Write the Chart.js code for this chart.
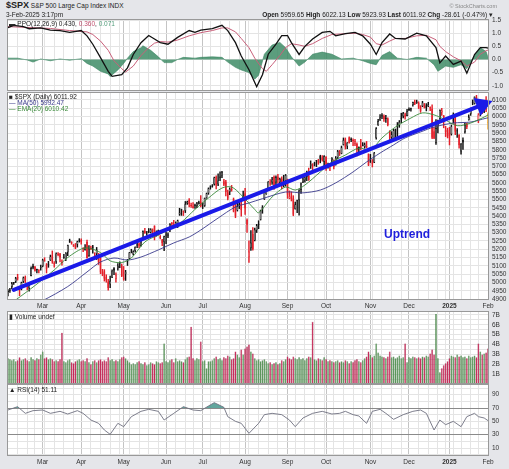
<!DOCTYPE html>
<html>
<head>
<meta charset="utf-8">
<script src="https://cdn.jsdelivr.net/npm/chart.js@4.4.1/dist/chart.umd.min.js"></script>
<style>
body{margin:0;width:509px;height:469px;background:#e5e6ea;position:relative;overflow:hidden;font-family:"Liberation Sans",Arial,sans-serif;}
canvas{position:absolute;left:7px;}
.t{position:absolute;font-size:6.5px;white-space:nowrap;color:#222;line-height:7px;}
</style>
</head>
<body>
<canvas id="ppo" width="502" height="84" style="top:13px"></canvas>
<canvas id="price" width="502" height="224" style="top:86px"></canvas>
<canvas id="vol" width="502" height="85" style="top:305px"></canvas>
<canvas id="rsi" width="502" height="91" style="top:378px"></canvas>

<div class="t" style="left:6px;top:2px"><b style="font-size:9px">$SPX</b> S&amp;P 500 Large Cap Index INDX</div>
<div class="t" style="left:6px;top:11px">3-Feb-2025 3:17pm</div>
<div class="t" style="right:12px;top:3px;color:#888;font-size:5.5px">© StockCharts.com</div>
<div class="t" style="right:16px;top:11px"><b>Open</b> 5959.65 <b>High</b> 6022.13 <b>Low</b> 5923.93 <b>Last</b> 6011.92 <b>Chg</b> -28.61 (-0.47%) ▾</div>

<div class="t" style="left:9px;top:20px">▬ PPO(12,26,9) 0.430, <span style="color:#c0506e">0.360</span>, <span style="color:#4e9a78">0.071</span></div>
<div class="t" style="left:9px;top:93px">■ $SPX (Daily) 6011.92</div>
<div class="t" style="left:9px;top:99px;color:#3a3a8c">— MA(50) 5992.47</div>
<div class="t" style="left:9px;top:105px;color:#3a8a3a">— EMA(20) 6010.42</div>
<div class="t" style="left:9px;top:313px">▮ Volume undef</div>
<div class="t" style="left:9px;top:386px">▲ RSI(14) 51.11</div>

<script>
const F = '"Liberation Sans", Arial, sans-serif';

// trading days shown
const months = ['2024-02','2024-03','2024-04','2024-05','2024-06','2024-07','2024-08','2024-09','2024-10','2024-11','2024-12','2025-01','2025-02'];
const monthDays = [
  [5,6,7,8,9,12,13,14,15,16,20,21,22,23,26,27,28,29],
  [1,4,5,6,7,8,11,12,13,14,15,18,19,20,21,22,25,26,27,28],
  [1,2,3,4,5,8,9,10,11,12,15,16,17,18,19,22,23,24,25,26,29,30],
  [1,2,3,6,7,8,9,10,13,14,15,16,17,20,21,22,23,24,28,29,30,31],
  [3,4,5,6,7,10,11,12,13,14,17,18,20,21,24,25,26,27,28],
  [1,2,3,5,8,9,10,11,12,15,16,17,18,19,22,23,24,25,26,29,30,31],
  [1,2,5,6,7,8,9,12,13,14,15,16,19,20,21,22,23,26,27,28,29,30],
  [3,4,5,6,9,10,11,12,13,16,17,18,19,20,23,24,25,26,27,30],
  [1,2,3,4,7,8,9,10,11,14,15,16,17,18,21,22,23,24,25,28,29,30,31],
  [1,4,5,6,7,8,11,12,13,14,15,18,19,20,21,22,25,26,27,29],
  [2,3,4,5,6,9,10,11,12,13,16,17,18,19,20,23,24,26,27,30,31],
  [2,3,6,7,8,10,13,14,15,16,17,21,22,23,24,27,28,29,30,31],
  [3]
];
const monthNames = ['Jan','Feb','Mar','Apr','May','Jun','Jul','Aug','Sep','Oct','Nov','Dec'];

const opens = [
  4942,4950,4973,4996,5004,5032,4967,4976,5004,5032,4989,4963,5039,5101,5093,5075,5067,5086,
  5098,5131,5110,5109,5133,5164,5111,5124,5174,5175,5124,5154,5139,5181,5254,5243,5220,5228,5227,5248,
  5257,5204,5194,5244,5158,5211,5217,5160,5172,5171,5149,5065,5068,5032,5006,4988,5029,5085,5020,5085,5114,5103,
  5029,5050,5122,5142,5188,5168,5190,5226,5234,5221,5264,5310,5303,5305,5299,5319,5340,5282,5316,5278,5259,5243,
  5283,5278,5314,5357,5343,5341,5353,5409,5441,5424,5431,5476,5499,5461,5459,5460,5460,5473,5488,
  5471,5461,5507,5537,5572,5584,5591,5636,5590,5638,5644,5610,5608,5544,5545,5566,5505,5429,5433,5476,5478,5506,
  5537,5376,5151,5206,5293,5252,5314,5353,5376,5442,5500,5531,5557,5603,5603,5637,5603,5639,5602,5627,5607,5612,
  5623,5506,5520,5508,5442,5490,5496,5557,5603,5615,5655,5641,5702,5709,5711,5733,5733,5762,5755,5726,
  5757,5698,5696,5737,5737,5714,5751,5778,5775,5829,5866,5820,5875,5859,5857,5833,5835,5816,5826,5831,5816,5823,5775,
  5724,5725,5722,5869,5947,5976,6008,6004,5985,5989,5913,5874,5864,5914,5937,5945,5992,6000,6014,6004,
  6040,6042,6069,6089,6081,6083,6057,6061,6074,6068,6063,6052,6047,5912,5842,5941,5985,6024,6007,5920,5920,
  5904,5892,5982,5994,5910,5890,5789,5859,5905,5960,5978,6015,6080,6076,6118,5970,6026,6058,6050,6096,
  5960
];
const highs = [
  4957,4964,5000,5000,5031,5049,4970,5002,5033,5039,4994,4984,5094,5111,5097,5081,5077,5105,
  5140,5149,5114,5127,5165,5190,5125,5179,5180,5176,5136,5170,5180,5225,5261,5246,5229,5235,5249,5264,
  5263,5209,5228,5256,5222,5219,5224,5179,5211,5175,5168,5079,5077,5046,5019,5038,5076,5089,5058,5114,5124,5111,
  5096,5073,5139,5181,5200,5191,5215,5239,5239,5250,5311,5326,5306,5325,5324,5323,5342,5311,5316,5283,5260,5280,
  5303,5299,5354,5362,5375,5365,5376,5447,5442,5432,5488,5490,5506,5478,5481,5472,5483,5490,5524,
  5479,5509,5539,5570,5583,5590,5635,5642,5655,5666,5669,5622,5615,5557,5570,5585,5509,5491,5488,5488,5489,5551,
  5567,5383,5250,5312,5331,5328,5350,5372,5436,5463,5546,5563,5608,5620,5633,5643,5642,5652,5629,5636,5646,5651,
  5623,5552,5546,5523,5484,5497,5560,5600,5636,5637,5671,5690,5733,5716,5725,5736,5742,5767,5765,5765,
  5758,5720,5715,5752,5739,5759,5796,5796,5822,5871,5871,5843,5878,5872,5866,5863,5842,5817,5862,5843,5841,5850,5775,
  5772,5741,5784,5933,5983,6012,6018,6010,6008,5993,5915,5909,5924,5925,5964,5976,6020,6025,6021,6044,
  6053,6051,6087,6099,6099,6089,6066,6092,6079,6078,6085,6058,6070,5935,5982,5978,6040,6049,6007,5941,5930,
  5935,5949,6022,6000,5928,5891,5837,5871,5961,5961,6011,6051,6100,6119,6128,6018,6070,6062,6087,6121,
  6022
];
const lows = [
  4918,4939,4961,4988,4999,5014,4920,4955,4999,4999,4955,4947,5039,5081,5068,5057,5058,5074,
  5094,5127,5057,5091,5132,5115,5092,5115,5160,5123,5104,5145,5131,5162,5241,5230,5216,5203,5213,5243,
  5230,5185,5194,5146,5157,5197,5177,5146,5138,5108,5052,5040,5008,5001,4954,4969,5028,5047,5002,5074,5089,5035,
  5013,5012,5102,5142,5178,5165,5182,5209,5209,5218,5263,5296,5284,5299,5298,5286,5256,5279,5286,5262,5222,5191,
  5234,5270,5306,5335,5331,5331,5331,5404,5404,5403,5421,5470,5455,5452,5448,5446,5451,5471,5455,
  5445,5458,5507,5531,5562,5574,5587,5563,5584,5614,5631,5583,5522,5497,5529,5550,5425,5390,5430,5445,5400,5506,
  5410,5302,5120,5193,5195,5250,5301,5324,5376,5417,5500,5531,5555,5585,5591,5560,5590,5599,5590,5563,5576,5581,
  5507,5504,5491,5402,5442,5420,5406,5536,5602,5604,5614,5615,5687,5674,5702,5698,5712,5721,5731,5703,
  5675,5689,5674,5707,5684,5707,5745,5765,5775,5828,5804,5806,5840,5849,5824,5824,5763,5784,5799,5823,5809,5811,5704,
  5723,5696,5722,5863,5946,5976,5987,5970,5965,5943,5854,5866,5859,5856,5880,5935,5963,5992,5984,6004,
  6035,6032,6062,6071,6079,6048,6025,6059,6051,6034,6059,6035,5867,5866,5832,5902,5982,6007,5932,5879,5871,
  5829,5888,5960,5891,5874,5809,5773,5802,5900,5927,5978,6007,6071,6075,6089,5963,6004,6017,6024,6030,
  5924
];
const closes = [
  4942,4954,4995,4998,5027,5022,4953,5001,5030,5006,4976,4982,5087,5089,5070,5078,5069,5096,
  5137,5131,5079,5105,5157,5124,5117,5175,5165,5150,5117,5149,5179,5225,5241,5234,5218,5203,5248,5254,
  5243,5205,5211,5147,5204,5202,5209,5161,5199,5123,5061,5051,5022,5011,4967,5010,5071,5072,5048,5100,5116,5036,
  5018,5064,5128,5181,5187,5188,5214,5223,5221,5247,5308,5297,5303,5308,5321,5307,5268,5305,5306,5267,5236,5278,
  5283,5291,5354,5352,5347,5361,5375,5421,5434,5431,5473,5487,5473,5465,5448,5469,5478,5483,5460,
  5475,5509,5537,5567,5572,5577,5633,5585,5615,5631,5667,5589,5545,5505,5564,5556,5427,5399,5459,5464,5436,5522,
  5446,5347,5186,5240,5199,5319,5344,5344,5434,5455,5543,5554,5608,5597,5621,5571,5634,5616,5625,5592,5592,5648,
  5529,5520,5503,5408,5471,5496,5554,5596,5626,5633,5634,5618,5714,5703,5718,5732,5722,5745,5738,5762,
  5709,5710,5700,5751,5696,5751,5792,5780,5815,5859,5815,5843,5841,5865,5853,5851,5797,5809,5808,5823,5832,5813,5705,
  5728,5712,5782,5929,5973,5995,6001,5984,5985,5949,5871,5893,5917,5917,5948,5969,5987,6021,5999,6032,
  6047,6050,6087,6075,6090,6053,6034,6085,6051,6051,6074,6050,5872,5867,5931,5975,6040,6037,5971,5907,5882,
  5869,5942,5975,5909,5918,5827,5837,5843,5950,5937,5997,6049,6086,6119,6101,6012,6067,6039,6071,6041,
  6012
];
// volume in billions
const volumes = [
  2.6,2.5,2.4,2.5,2.3,2.4,2.7,2.4,2.5,2.6,2.4,2.3,2.7,2.5,2.4,2.6,2.5,3.0,
  3.3,2.6,2.7,2.5,2.6,2.5,2.3,2.4,2.3,2.5,5.2,2.3,2.2,2.4,2.5,2.2,2.1,2.3,2.4,2.5,
  2.3,2.4,2.3,2.6,2.2,2.0,2.3,2.4,2.2,2.4,2.5,2.3,2.4,2.3,2.7,2.4,2.5,2.3,2.4,2.3,2.5,2.7,
  2.8,2.6,2.4,2.2,2.0,2.1,2.0,2.2,2.3,2.1,2.0,2.2,1.9,2.0,2.2,2.1,2.0,2.3,2.2,2.1,2.2,4.1,
  2.3,2.2,2.4,2.5,2.2,2.6,2.3,2.4,2.3,2.2,2.5,2.7,2.8,5.8,2.6,2.4,2.6,2.5,4.3,
  2.3,2.4,1.6,2.3,2.3,2.4,2.6,2.8,2.5,2.6,2.4,2.7,2.6,2.9,2.8,2.5,2.6,3.3,3.0,2.7,3.5,3.0,
  3.6,3.8,4.0,3.3,3.1,2.6,2.4,2.5,2.3,2.4,2.5,2.3,2.1,2.2,2.0,2.1,2.2,2.0,2.1,2.4,2.3,2.5,
  2.8,2.6,2.5,2.8,2.6,2.5,2.7,2.5,2.6,2.4,2.6,2.8,2.7,6.3,2.5,2.4,2.6,2.5,2.4,2.7,
  2.5,2.3,2.4,2.3,2.2,2.3,2.4,2.2,2.3,2.2,2.4,2.3,2.1,2.3,2.2,2.4,2.5,2.3,2.2,2.4,2.6,2.8,3.3,
  3.0,2.7,2.9,4.1,3.2,2.9,2.8,2.7,2.6,2.8,3.3,2.7,2.8,2.6,2.7,2.9,2.6,2.7,4.1,2.2,
  2.7,2.6,2.8,2.7,2.6,2.7,2.6,2.8,2.7,2.9,2.8,3.1,3.5,3.0,7.1,2.6,1.2,1.6,1.9,2.1,2.3,
  2.6,2.9,2.8,2.7,3.0,2.8,2.9,2.7,2.8,2.6,2.9,2.7,2.8,2.9,2.7,4.1,3.3,3.0,3.1,3.2,
  3.6
];

// smooth lines, read at sample bars (bar index -> value)
const ma50Idx = [10,18,31,41,48,55,62,69,78,86,94,100,109,118,125,132,144,153,162,170,179,186,193,200,206,214,221,231,240,248,249];
const ma50Val = [4850,4890,4975,5063,5123,5147,5135,5153,5196,5238,5274,5316,5388,5455,5479,5505,5545,5540,5557,5600,5666,5726,5780,5829,5871,5907,5937,5961,5967,5990,5992];
const ema20Idx = [0,13,24,31,40,48,53,59,64,71,78,83,90,97,104,111,116,121,128,130,137,144,149,154,162,168,175,182,188,194,201,209,215,221,226,233,240,247,249];
const ema20Val = [4860,4972,5075,5150,5208,5180,5130,5120,5147,5244,5286,5316,5364,5440,5509,5569,5575,5527,5440,5420,5515,5575,5557,5587,5666,5726,5768,5810,5798,5871,5937,5991,6022,6010,5985,5945,5961,5997,6010];
const trendIdx = [3,246];
const trendVal = [4955,6070];

const ppoIdx = [0,3,8,11,17,22,27,32,38,41,44,48,52,54,59,62,65,69,73,76,79,83,88,94,97,100,106,111,114,118,121,125,129,132,135,139,142,145,147,151,154,158,163,167,170,175,180,184,188,191,194,198,201,206,212,217,222,224,227,231,235,238,242,245,248,249];
const ppoVal = [1.21,1.30,1.25,1.17,1.20,1.12,1.10,1.03,1.10,0.90,0.58,0.07,-0.45,-0.64,-0.58,-0.32,0.19,0.64,0.91,0.78,0.64,0.58,0.84,1.10,1.03,1.12,1.17,1.30,1.10,0.64,0.13,-0.39,-1.04,-0.58,0.20,0.58,0.91,0.91,0.64,0.19,0.50,0.78,1.03,1.07,0.90,0.98,1.03,0.90,0.58,0.19,0.64,0.97,0.80,0.78,1.00,0.90,0.45,-0.13,0.13,-0.19,-0.06,-0.52,0.19,0.45,0.45,0.43];
const sigIdx = [0,22,32,41,44,48,52,55,59,61,65,69,73,76,79,83,88,94,100,106,111,114,118,121,125,128,132,134,137,141,144,147,151,154,158,163,168,175,180,184,188,191,194,198,201,206,212,217,222,224,227,231,235,238,242,245,248,249];
const sigVal = [1.25,1.18,1.10,1.05,0.95,0.70,0.35,-0.05,-0.35,-0.48,-0.25,0.15,0.45,0.62,0.68,0.66,0.74,0.90,1.02,1.10,1.20,1.20,1.05,0.80,0.45,0.05,-0.35,-0.45,-0.20,0.15,0.45,0.60,0.55,0.50,0.60,0.80,0.95,0.98,1.00,0.95,0.85,0.60,0.55,0.70,0.80,0.80,0.90,0.92,0.75,0.50,0.30,0.10,-0.05,-0.25,-0.10,0.20,0.33,0.36];
const histIdx = [0,5,10,13,17,22,27,32,38,41,44,48,52,53,57,60,62,65,69,70,74,78,81,85,88,91,97,100,106,111,114,118,121,125,128,130,133,137,141,144,147,151,154,158,163,168,173,179,184,188,191,194,198,202,207,212,217,221,223,227,231,235,238,242,245,248,249];
const histVal = [0.05,0.05,-0.02,-0.1,0.02,-0.05,0.02,-0.03,0.03,-0.15,-0.25,-0.45,-0.55,-0.65,-0.4,-0.15,0.05,0.3,0.45,0.52,0.35,0.1,-0.12,-0.12,0.0,0.08,0.05,0.08,0.1,0.08,-0.1,-0.3,-0.4,-0.5,-0.75,-0.6,0.2,0.55,0.65,0.45,0.1,-0.25,-0.1,0.2,0.28,0.2,0.02,0.05,-0.05,-0.15,-0.2,0.15,0.3,0.05,0.0,0.08,0.05,-0.2,-0.45,-0.25,-0.3,-0.2,-0.35,0.15,0.45,0.3,0.07];

const rsiIdx = [0,5,9,13,18,22,27,31,36,39,43,47,50,53,57,60,64,69,73,78,81,86,91,96,100,104,107,112,114,118,121,125,130,133,137,142,146,149,153,158,163,168,172,175,179,182,186,189,193,196,200,205,210,214,217,221,224,227,231,235,238,242,244,247,249];
const rsiVal = [67,72,62,66,67,62,65,61,66,62,52,47,37,30.5,47,42,57,65,68,65,52,62,72,67,66,73,78,71,57,50,47,32,47,60,62,60,52,42,55,62,65,61,62,65,60,58,47,65,68,62,53,60,65,67,62,37,52,45,50,42,57,62,57,55,51];

// tick labels
const priceTicks = [4900,4950,5000,5050,5100,5150,5200,5250,5300,5350,5400,5450,5500,5550,5600,5650,5700,5750,5800,5850,5900,5950,6000,6050,6100];
const ppoTicks = [-1.0,-0.5,0.0,0.5,1.0,1.5];
const volTicks = [0.5,1,1.5,2,2.5,3,3.5,4,4.5,5,5.5,6,6.5,7];
const rsiTicks = [0,10,20,30,40,50,60,70,80,90,100];

// ---- build ----
const dates = [];
months.forEach((m, k) => monthDays[k].forEach(d => dates.push(m + '-' + String(d).padStart(2, '0'))));

function monthLabel(i) {
  if (i <= 0) return '';
  const m = dates[i].slice(0, 7), p = dates[i - 1].slice(0, 7);
  if (m === p) return '';
  const mm = +dates[i].slice(5, 7);
  return mm === 1 ? dates[i].slice(0, 4) : monthNames[mm - 1];
}
function weekStart(i) {
  if (i <= 0) return false;
  return new Date(dates[i] + 'T00:00:00Z').getUTCDay() < new Date(dates[i - 1] + 'T00:00:00Z').getUTCDay();
}
function pts(idx, vals) {
  return idx.map((i, k) => ({ x: dates[i], y: vals[k] }));
}

function xAxis(show) {
  return {
    type: 'category', offset: true,
    border: { display: false },
    grid: {
      offset: false, drawTicks: false,
      color: c => monthLabel(c.index) ? '#c4c4c4' : (weekStart(c.index) ? '#e4e4e4' : 'rgba(0,0,0,0)')
    },
    ticks: {
      display: show, autoSkip: false, maxRotation: 0, minRotation: 0, padding: 2,
      color: '#333',
      font: c => ({ family: F, size: 6.5, weight: monthLabel(c.index) === '2025' ? 'bold' : 'normal' }),
      callback: (v, i) => monthLabel(i)
    },
    afterFit: s => { s.height = show ? 10 : 0; s.paddingLeft = 0; s.paddingRight = 0; }
  };
}
function yAxis(min, max, tickVals, fmt, gridCol) {
  return {
    position: 'right', min: min, max: max,
    border: { display: false },
    afterBuildTicks: s => { s.ticks = tickVals.map(v => ({ value: v })); },
    grid: { drawTicks: false, color: gridCol || '#e4e4e4' },
    ticks: { autoSkip: false, padding: 3, color: '#333', font: { family: F, size: 6.5 }, callback: fmt },
    afterFit: s => { s.width = 20; s.paddingTop = 0; s.paddingBottom = 0; }
  };
}

const panel = {
  id: 'panel',
  beforeDraw(c) {
    const a = c.chartArea, x = c.ctx;
    x.save(); x.fillStyle = '#fff';
    x.fillRect(a.left, a.top, a.right - a.left, a.bottom - a.top);
    x.restore();
  },
  afterDraw(c) {
    const a = c.chartArea, x = c.ctx;
    x.save(); x.strokeStyle = '#999'; x.lineWidth = 1;
    x.strokeRect(a.left + 0.5, a.top + 0.5, a.right - a.left - 1, a.bottom - a.top - 1);
    x.restore();
  }
};
const note = { text: 'Uptrend', index: 207, price: 5286 };
const notePlugin = {
  id: 'note',
  afterDatasetsDraw(c) {
    const x = c.ctx;
    x.save();
    x.font = 'bold 12px ' + F;
    x.fillStyle = '#1f1fdc';
    x.textAlign = 'center'; x.textBaseline = 'middle';
    x.fillText(note.text, c.scales.x.getPixelForValue(note.index), c.scales.y.getPixelForValue(note.price));
    x.restore();
  }
};

function opts(pad, scales) {
  return {
    responsive: false, animation: false,
    layout: { padding: pad, autoPadding: false },
    plugins: { legend: { display: false }, tooltip: { enabled: false } },
    scales: scales
  };
}

// candle colours
const candleCol = closes.map((c, i) => {
  if (i === closes.length - 1) return '#f0a020';
  return (i === 0 ? c >= opens[0] : c >= closes[i - 1]) ? '#111' : '#e3202a';
});
const bodyFill = closes.map((c, i) => c > opens[i] ? '#fff' : candleCol[i]);
const upDay = closes.map((c, i) => i === 0 ? true : c >= closes[i - 1]);

// PPO panel
new Chart(document.getElementById('ppo'), {
  type: 'line',
  data: {
    labels: dates,
    datasets: [
      { data: pts(ppoIdx, ppoVal), borderColor: '#111', borderWidth: 1.3, pointRadius: 0, order: 0 },
      { data: pts(sigIdx, sigVal), borderColor: '#c8607a', borderWidth: 1, pointRadius: 0, order: 1 },
      { data: pts(histIdx, histVal), borderColor: '#3a8562', borderWidth: 0.6, backgroundColor: 'rgba(62,140,102,0.85)', fill: 'origin', pointRadius: 0, order: 2 }
    ]
  },
  options: opts({ top: 6, bottom: 6, left: 0, right: 0 }, {
    x: xAxis(false),
    y: yAxis(-1.2, 1.54, ppoTicks, v => v.toFixed(1))
  }),
  plugins: [panel]
});

// price panel
new Chart(document.getElementById('price'), {
  type: 'bar',
  data: {
    labels: dates,
    datasets: [
      { type: 'line', data: pts(trendIdx, trendVal), borderColor: '#1a1ae8', backgroundColor: '#1a1ae8', borderWidth: 4,
        pointRadius: [0, 7], pointStyle: 'triangle', pointRotation: 68.4, borderCapStyle: 'round', order: 0 },
      { type: 'line', data: pts(ema20Idx, ema20Val), borderColor: '#3a8a3a', borderWidth: 0.9, pointRadius: 0, tension: 0.3, order: 1 },
      { type: 'line', data: pts(ma50Idx, ma50Val), borderColor: '#3a3a8c', borderWidth: 0.9, pointRadius: 0, tension: 0.3, order: 2 },
      { data: opens.map((o, i) => [o, closes[i]]), backgroundColor: bodyFill, borderColor: candleCol, borderWidth: 0.7,
        borderSkipped: false, minBarLength: 1, barPercentage: 0.95, categoryPercentage: 1, grouped: false, order: 3 },
      { data: lows.map((l, i) => [l, highs[i]]), backgroundColor: candleCol, barThickness: 0.8, grouped: false, order: 4 }
    ]
  },
  options: opts({ top: 6, bottom: 0, left: 0, right: 0 }, {
    x: xAxis(true),
    y: yAxis(4894, 6148, priceTicks, v => String(v))
  }),
  plugins: [panel, notePlugin]
});

// volume panel
new Chart(document.getElementById('vol'), {
  type: 'bar',
  data: {
    labels: dates,
    datasets: [{
      data: volumes,
      backgroundColor: upDay.map(u => u ? '#5a955a' : '#c42a58'),
      borderColor: upDay.map(u => u ? '#467a46' : '#a01e46'),
      borderWidth: 0.4, barPercentage: 0.95, categoryPercentage: 1
    }]
  },
  options: opts({ top: 6, bottom: 6, left: 0, right: 0 }, {
    x: xAxis(false),
    y: yAxis(0, 7.4, volTicks, v => Number.isInteger(v) ? v + 'B' : '')
  }),
  plugins: [panel]
});

// RSI panel
new Chart(document.getElementById('rsi'), {
  type: 'line',
  data: {
    labels: dates,
    datasets: [{
      data: pts(rsiIdx, rsiVal), borderColor: '#6f7080', borderWidth: 0.9, pointRadius: 0,
      fill: { target: { value: 70 }, above: 'rgba(70,150,140,0.85)', below: 'rgba(0,0,0,0)' }
    }]
  },
  options: opts({ top: 6, bottom: 3, left: 0, right: 0 }, {
    x: xAxis(true),
    y: yAxis(-2, 106, rsiTicks, v => (v % 20 === 10 ? String(v) : ''),
      c => (c.tick && (c.tick.value === 30 || c.tick.value === 70)) ? '#8a8a8a' : '#e4e4e4')
  }),
  plugins: [panel]
});
</script>
</body>
</html>
